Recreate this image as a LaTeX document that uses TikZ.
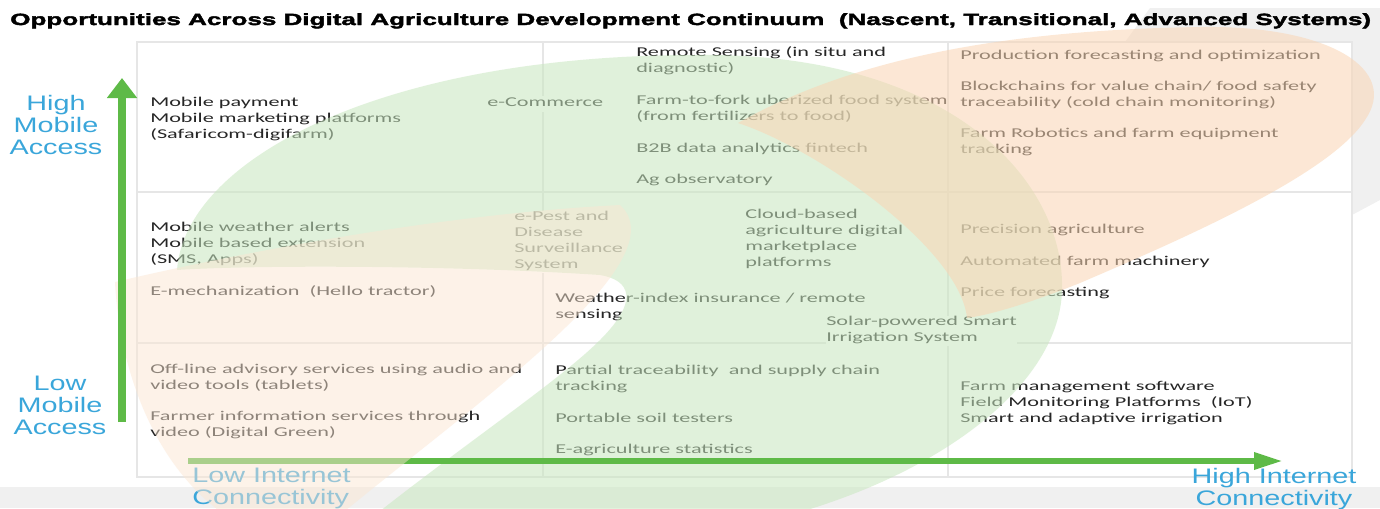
\documentclass[tikz,border=0pt]{standalone}
\usepackage{fontspec}
\usepackage{tikz}
\usetikzlibrary{arrows.meta}
\newfontfamily\bodyfont{Carlito}[FakeStretch=1.65]
\newfontfamily\axisfont{Liberation Sans}[FakeStretch=1.37]
\newfontfamily\titlefont{Liberation Sans}[FakeStretch=1.6, FakeBold=2.4]
\definecolor{leafgreen}{RGB}{200,231,191}
\definecolor{peachtop}{RGB}{250,213,180}
\definecolor{peachlow}{RGB}{251,230,210}
\definecolor{arrowgreen}{RGB}{94,186,71}
\definecolor{labelblue}{RGB}{58,166,218}
\definecolor{gridgray}{RGB}{230,230,230}
\definecolor{bandgray}{RGB}{240,240,240}
\tikzstyle{item} = [anchor=north west, inner sep=0pt, align=left, text=black!85, font=\bodyfont\fontsize{10.1}{12}\selectfont, execute at begin node=\strut]
\tikzstyle{itembox} = [item, fill=white]
\tikzstyle{axislabel} = [anchor=north, inner sep=0pt, align=center, text=labelblue, font=\axisfont\fontsize{15.75}{16.5}\selectfont, execute at begin node=\strut]
\tikzstyle{gridline} = [draw=gridgray, line width=0.9pt]
\tikzstyle{mobarrow} = [draw=arrowgreen, line width=6pt, -{Triangle[length=15pt, width=21.75pt]}]
\tikzstyle{netarrow} = [draw=arrowgreen, line width=4.5pt, -{Triangle[length=21.75pt, width=12pt]}]
\begin{document}
\begin{tikzpicture}[x=0.75pt, y=-0.75pt]

    \useasboundingbox (0, 0) rectangle (1380, 508);
    \clip (0, 0) rectangle (1380, 508);

    \fill [bandgray] (0, 487) rectangle (1380, 508);
    \fill [bandgray] (1150, 8) -- (1380, 8) -- (1380, 200) -- (1352, 215) -- (1352, 42) -- (1125, 42) -- cycle;

    \draw [gridline, fill=white] (137, 42) rectangle (1352, 477);
    \draw [gridline] (543, 42) -- (543, 477);
    \draw [gridline] (948, 42) -- (948, 477);
    \draw [gridline] (137, 192) -- (1352, 192);
    \draw [gridline] (137, 343) -- (1352, 343);

    \node (mpay) [item] at (150, 96.5) {Mobile payment\\Mobile marketing platforms\\(Safaricom-digifarm)};
    \node (ecom) [itembox] at (487, 95.5) {e-Commerce};
    \node (rsens) [item] at (636, 46.5) {Remote Sensing (in situ and\\diagnostic)};
    \node (ftf) [item] at (636, 94.5) {Farm-to-fork uberized food system\\(from fertilizers to food)};
    \node (btb) [item] at (636, 141.5) {B2B data analytics fintech};
    \node (agobs) [item] at (636, 172.5) {Ag observatory};
    \node (prodf) [item] at (960, 48.5) {Production forecasting and optimization};
    \node (bchain) [item] at (960, 80.5) {Blockchains for value chain/ food safety\\traceability (cold chain monitoring)};
    \node (robot) [item] at (960, 127.5) {Farm Robotics and farm equipment\\tracking};

    \node (mweather) [item] at (150, 221.5) {Mobile weather alerts\\Mobile based extension\\(SMS, Apps)};
    \node (emech) [item] at (150, 284.5) {E-mechanization\ \ (Hello tractor)};
    \node (epest) [itembox] at (514, 210.5) {e-Pest and\\Disease\\Surveillance\\System};
    \node (cloud) [item] at (745, 208.5) {Cloud-based\\agriculture digital\\marketplace\\platforms};
    \node (windex) [item] at (555, 292.5) {Weather-index insurance / remote\\sensing};
    \node (solar) [itembox] at (826, 315.5) {Solar-powered Smart\\Irrigation System};
    \node (precis) [item] at (960, 222.5) {Precision agriculture};
    \node (automach) [item] at (960, 254.5) {Automated farm machinery};
    \node (pricef) [item] at (960, 285.5) {Price forecasting};

    \node (offline) [item] at (150, 363.5) {Off-line advisory services using audio and\\video tools (tablets)};
    \node (farminfo) [item] at (150, 410.5) {Farmer information services through\\video (Digital Green)};
    \node (partial) [item] at (555, 364.5) {Partial traceability\ \ and supply chain\\tracking};
    \node (soil) [item] at (555, 411.5) {Portable soil testers};
    \node (estat) [item] at (555, 442.5) {E-agriculture statistics};
    \node (fms) [item] at (960, 380.5) {Farm management software\\Field Monitoring Platforms\ \ (IoT)\\Smart and adaptive irrigation};

    \node (highmob) [axislabel] at (56, 95) {High\\Mobile\\Access};
    \node (lowmob) [axislabel] at (60, 376) {Low\\Mobile\\Access};
    \node (lowint) [axislabel, anchor=north west, align=left] at (192, 468) {Low Internet\\Connectivity};
    \node (highint) [axislabel] at (1274, 468) {High Internet\\Connectivity};

    \fill [leafgreen, fill opacity=0.55] (375, 515) .. controls (470, 440) and (560, 380) .. (600, 340)
        .. controls (640, 300) and (630, 280) .. (600, 275)
        .. controls (450, 265) and (250, 265) .. (177, 270)
        .. controls (185, 160) and (380, 55) .. (696, 55)
        .. controls (950, 52) and (1065, 180) .. (1062, 290)
        .. controls (1060, 380) and (950, 470) .. (790, 515) -- cycle;

    \coordinate (netfoot) at (188, 461);
    \coordinate (nettip) at (1283, 461);
    \draw [netarrow] (netfoot) -- (nettip);

    \fill [peachlow, fill opacity=0.49] (115, 282) .. controls (200, 262) and (420, 215) .. (620, 205)
        .. controls (680, 260) and (480, 400) .. (340, 515)
        -- (225, 515) .. controls (160, 470) and (120, 380) .. (115, 282) -- cycle;
    \fill [peachtop, fill opacity=0.55] (738, 123) .. controls (850, 60) and (1000, 30) .. (1200, 27)
        .. controls (1330, 25) and (1400, 70) .. (1365, 120)
        .. controls (1330, 175) and (1180, 240) .. (1080, 283)
        .. controls (1030, 303) and (990, 315) .. (967, 318)
        .. controls (960, 250) and (820, 150) .. (738, 123) -- cycle;

    \coordinate (mobfoot) at (122, 422);
    \coordinate (mobtip) at (122, 78);
    \draw [mobarrow] (mobfoot) -- (mobtip);

    \node (title) [anchor=base west, inner sep=0pt, font=\titlefont\bfseries\fontsize{12.2}{14}\selectfont] at (10, 25) {Opportunities Across Digital Agriculture Development Continuum\ \ (Nascent, Transitional, Advanced Systems)};

\end{tikzpicture}
\end{document}
